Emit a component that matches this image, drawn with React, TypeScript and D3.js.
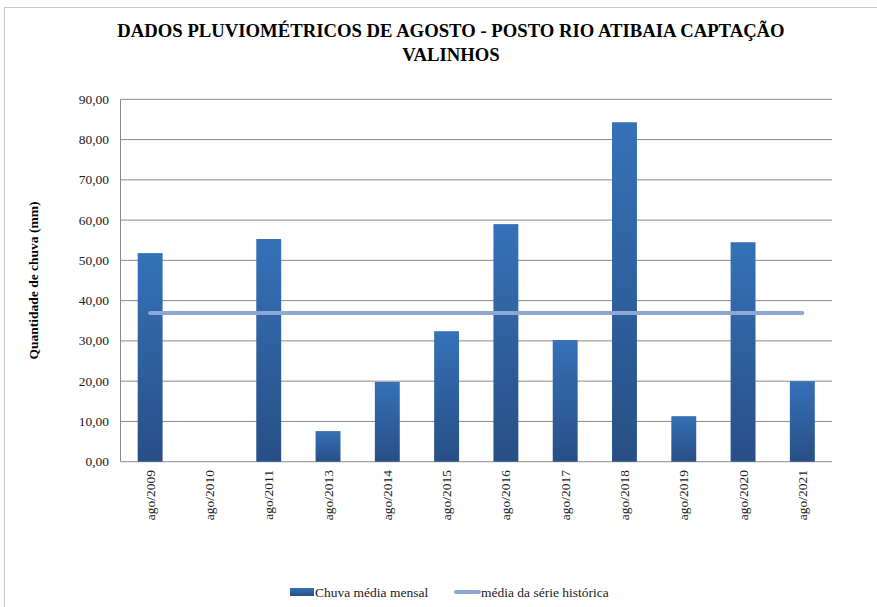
import React from "react";
import * as d3 from "d3";

const categories = ["ago/2009","ago/2010","ago/2011","ago/2013","ago/2014","ago/2015","ago/2016","ago/2017","ago/2018","ago/2019","ago/2020","ago/2021"];
const rainfall = [51.8, 0, 55.3, 7.6, 19.8, 32.4, 59.0, 30.2, 84.3, 11.3, 54.5, 20.0];
const historicalMean = [36.9, 36.9, 36.9, 36.9, 36.9, 36.9, 36.9, 36.9, 36.9, 36.9, 36.9, 36.9];
const yTicks = [0, 10, 20, 30, 40, 50, 60, 70, 80, 90];
const titleLines = ["DADOS PLUVIOMÉTRICOS DE AGOSTO - POSTO RIO ATIBAIA CAPTAÇÃO", "VALINHOS"];
const yAxisTitle = "Quantidade de chuva (mm)";
const legendLabels = ["Chuva média mensal", "média da série histórica"];

const W = 877, H = 607;
const plot = { left: 120.5, right: 832, top: 99.3, bottom: 461.7 };
const serif = "Liberation Serif";

export default function App() {
  const x = d3.scaleBand<string>().domain(categories).range([plot.left, plot.right]).paddingInner(0.58).paddingOuter(0.29);
  const y = d3.scaleLinear().domain([0, 90]).range([plot.bottom, plot.top]);
  const fmt = (v: number) => d3.format(".2f")(v).replace(".", ",");
  const line = d3.line<number>()
    .x((_, i) => (x(categories[i]) as number) + x.bandwidth() / 2)
    .y((d) => y(d));
  const ts = { fontFamily: serif };

  return (
    <svg width={W} height={H} style={{ position: "absolute", left: 0, top: 0, background: "#fff" }}>
      <defs>
        <linearGradient id="barGrad" x1="0" y1="0" x2="0" y2="1">
          <stop offset="0%" stopColor="#3571B7" />
          <stop offset="100%" stopColor="#284F86" />
        </linearGradient>
      </defs>
      <rect x={0} y={0} width={W} height={H} fill="#fff" />
      <rect x={4.5} y={7.5} width={W + 10} height={H + 10} fill="none" stroke="#c8c8c8" />
      {titleLines.map((t, i) => (
        <text key={i} x={451} y={37 + i * 24} textAnchor="middle" fontWeight="bold" fontSize={18.7} fill="#000" style={ts}>{t}</text>
      ))}
      {yTicks.map((t) => (
        <g key={t}>
          <line x1={plot.left} x2={plot.right} y1={y(t)} y2={y(t)} stroke="#8a8a8a" strokeWidth={1} />
          <text x={109} y={y(t) + 4.5} textAnchor="end" fontSize={13.5} fill="#222" style={ts}>{fmt(t)}</text>
        </g>
      ))}
      <line x1={plot.left} x2={plot.left} y1={plot.top} y2={plot.bottom} stroke="#8a8a8a" />
      {categories.map((c, i) => (
        <rect key={c} x={x(c)} y={y(rainfall[i])} width={x.bandwidth()} height={plot.bottom - y(rainfall[i])} fill="url(#barGrad)" />
      ))}
      <path d={line(historicalMean) || ""} fill="none" stroke="#8EA8D3" strokeWidth={4} strokeLinecap="round" />
      {categories.map((c) => {
        const cx = (x(c) as number) + x.bandwidth() / 2;
        return (
          <text key={c} transform={`translate(${cx + 4.5},${470}) rotate(-90)`} textAnchor="end" fontSize={13.5} fill="#222" style={ts}>{c}</text>
        );
      })}
      <text transform={`translate(38,${(plot.top + plot.bottom) / 2}) rotate(-90)`} textAnchor="middle" fontWeight="bold" fontSize={13.5} fill="#000" style={ts}>{yAxisTitle}</text>
      <rect x={290} y={588} width={24} height={8} fill="url(#barGrad)" />
      <text x={315} y={597} fontSize={13.5} fill="#222" style={ts}>{legendLabels[0]}</text>
      <line x1={456} x2={479} y1={592} y2={592} stroke="#8EA8D3" strokeWidth={4} strokeLinecap="round" />
      <text x={481} y={597} fontSize={13.5} fill="#222" style={ts}>{legendLabels[1]}</text>
    </svg>
  );
}
